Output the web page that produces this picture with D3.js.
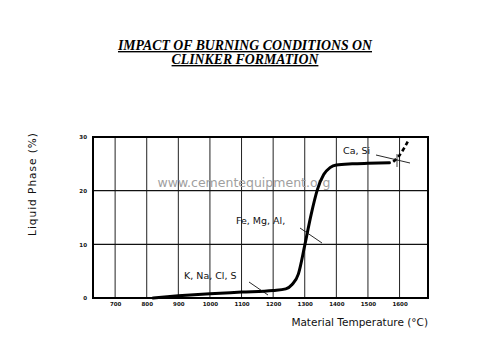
<!DOCTYPE html>
<html>
<head>
<meta charset="utf-8">
<script src="https://cdn.jsdelivr.net/npm/d3@7"></script>
<style>
  body { margin: 0; background: #fff; }
  svg { display: block; }
</style>
</head>
<body>
<div class="app"></div>
<script>
// tick labels
var xTicks = [700, 800, 900, 1000, 1100, 1200, 1300, 1400, 1500, 1600];
var yTicks = [0, 10, 20, 30];

// liquid phase curve (temperature, %)
var curveTemp = [820, 900, 1000, 1100, 1200, 1240, 1260, 1280, 1300, 1320, 1340, 1360, 1380, 1400, 1450, 1500, 1568];
var curveVal  = [0, 0.4, 0.8, 1.1, 1.4, 1.7, 2.5, 4.5, 9.8, 15.5, 20.2, 23, 24.3, 24.8, 25.0, 25.1, 25.2];

// dashed extension past the end of the solid line
var dashTemp = [1580, 1600, 1615, 1630];
var dashVal  = [25.4, 26.6, 28, 29.6];

var width = 490, height = 363;
var svg = d3.select(".app").append("svg").attr("width", width).attr("height", height);

var x = d3.scaleLinear().domain([630, 1690]).range([93, 428]);
var y = d3.scaleLinear().domain([0, 30]).range([298, 137]);

// title
var title = svg.append("g").attr("font-family", "Liberation Serif, Times New Roman, serif")
  .attr("font-weight", "bold").attr("font-style", "italic").attr("font-size", 13.8)
  .attr("text-anchor", "middle").attr("text-decoration", "underline");
title.append("text").attr("x", 245).attr("y", 50).text("IMPACT OF BURNING CONDITIONS ON");
title.append("text").attr("x", 245).attr("y", 64).text("CLINKER FORMATION");

// grid
svg.append("g").selectAll("line").data(xTicks).enter().append("line")
  .attr("x1", function(d){ return x(d); }).attr("x2", function(d){ return x(d); })
  .attr("y1", y(30)).attr("y2", y(0))
  .attr("stroke", "#222").attr("stroke-width", 1);
svg.append("g").selectAll("line").data([10, 20]).enter().append("line")
  .attr("x1", x.range()[0]).attr("x2", x.range()[1])
  .attr("y1", function(d){ return y(d); }).attr("y2", function(d){ return y(d); })
  .attr("stroke", "#111").attr("stroke-width", 1.4);

// watermark
svg.append("text").attr("x", 244).attr("y", 187).attr("text-anchor", "middle")
  .attr("font-family", "DejaVu Sans, sans-serif").attr("font-size", 12.5)
  .attr("fill", "#a0a0a0").text("www.cementequipment.org");

// frame
svg.append("rect").attr("x", x.range()[0]).attr("y", y(30))
  .attr("width", x.range()[1] - x.range()[0]).attr("height", y(0) - y(30))
  .attr("fill", "none").attr("stroke", "#000").attr("stroke-width", 2);

// axes (labels only)
var xAxis = d3.axisBottom(x).tickValues(xTicks).tickFormat(d3.format("d")).tickSize(0).tickPadding(4);
var gx = svg.append("g").attr("transform", "translate(0," + y(0) + ")").call(xAxis);
gx.select(".domain").remove();
gx.selectAll("text").attr("font-family", "DejaVu Sans, sans-serif").attr("font-size", 5.5)
  .attr("font-weight", "bold").attr("fill", "#111");

var yAxis = d3.axisLeft(y).tickValues(yTicks).tickSize(0).tickPadding(6);
var gy = svg.append("g").attr("transform", "translate(" + x.range()[0] + ",0)").call(yAxis);
gy.select(".domain").remove();
gy.selectAll("text").attr("font-family", "DejaVu Sans, sans-serif").attr("font-size", 5.5)
  .attr("font-weight", "bold").attr("fill", "#111");

// axis titles
svg.append("text").attr("transform", "translate(36,184) rotate(-90)").attr("text-anchor", "middle")
  .attr("font-family", "DejaVu Sans, sans-serif").attr("font-size", 10.5).attr("letter-spacing", 1)
  .attr("fill", "#111").text("Liquid Phase (%)");
svg.append("text").attr("x", 428).attr("y", 326).attr("text-anchor", "end")
  .attr("font-family", "DejaVu Sans, sans-serif").attr("font-size", 10.5)
  .attr("fill", "#111").text("Material Temperature (°C)");

// curve
var line = d3.line().x(function(d){ return x(d[0]); }).y(function(d){ return y(d[1]); }).curve(d3.curveMonotoneX);
svg.append("path").datum(d3.zip(curveTemp, curveVal)).attr("d", line)
  .attr("fill", "none").attr("stroke", "#000").attr("stroke-width", 3).attr("stroke-linecap", "round");
svg.append("path").datum(d3.zip(dashTemp, dashVal)).attr("d", line)
  .attr("fill", "none").attr("stroke", "#000").attr("stroke-width", 2.6).attr("stroke-dasharray", "4,3");

// annotations
var notes = svg.append("g").attr("font-family", "DejaVu Sans, sans-serif").attr("font-size", 9.5).attr("fill", "#111");
notes.append("text").attr("x", 343).attr("y", 154).text("Ca, Si");
notes.append("text").attr("x", 236).attr("y", 224).text("Fe, Mg, Al,");
notes.append("text").attr("x", 184).attr("y", 279).text("K, Na, Cl, S");

var leaders = [
  [[376, 155], [410, 163]],
  [[300, 228], [322, 243]],
  [[249, 282], [268, 295]]
];
svg.append("g").selectAll("line").data(leaders).enter().append("line")
  .attr("x1", function(d){ return d[0][0]; }).attr("y1", function(d){ return d[0][1]; })
  .attr("x2", function(d){ return d[1][0]; }).attr("y2", function(d){ return d[1][1]; })
  .attr("stroke", "#111").attr("stroke-width", 0.9);
svg.append("line").attr("x1", 397).attr("y1", 154).attr("x2", 397).attr("y2", 167)
  .attr("stroke", "#111").attr("stroke-width", 0.8);
</script>
</body>
</html>
